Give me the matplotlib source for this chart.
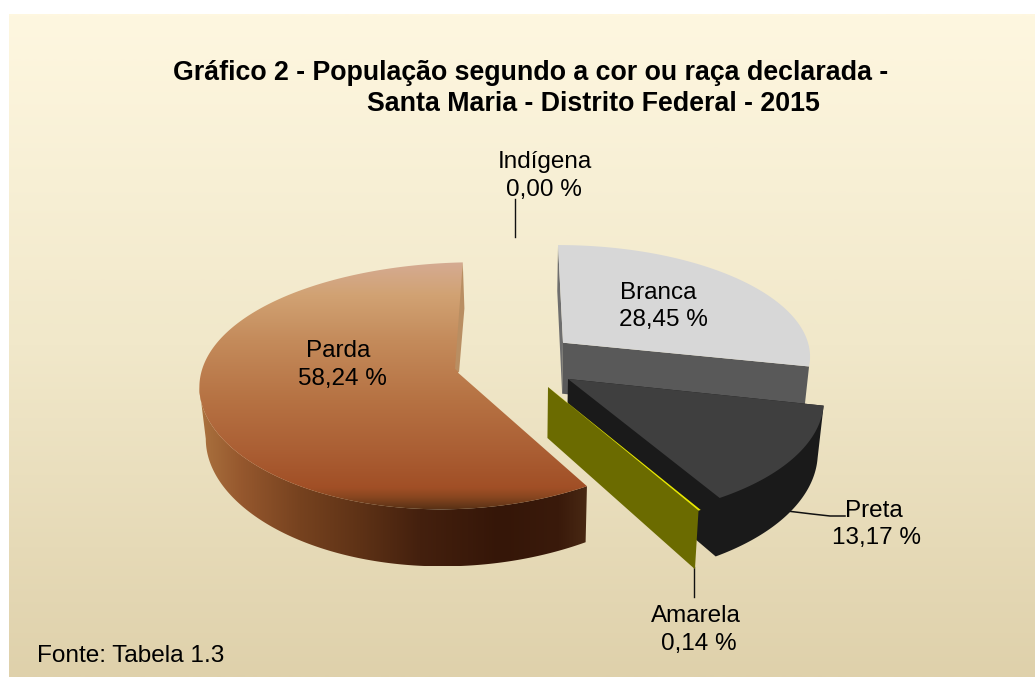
import numpy as np
import matplotlib
matplotlib.use("Agg")
import matplotlib.pyplot as plt
from matplotlib.colors import LinearSegmentedColormap
from matplotlib.patches import Polygon

plt.rcParams['font.family'] = ['Liberation Sans', 'DejaVu Sans']

# ---- data ----
categories = ["Branca", "Preta", "Amarela", "Parda", "Indígena"]
values = [28.45, 13.17, 0.14, 58.24, 0.00]
title_lines = ["Gráfico 2 - População segundo a cor ou raça declarada -",
               "Santa Maria - Distrito Federal - 2015"]
source_text = "Fonte: Tabela 1.3"

W, H = 1035, 677
fig = plt.figure(figsize=(W / 100, H / 100), dpi=100)
ax = fig.add_axes([0, 0, 1, 1])
ax.set_xlim(0, W)
ax.set_ylim(H, 0)
ax.axis("off")

DEPTH = 51
NADIR_X = 520
NADIR_K = 0.98
total = sum(values)
edges = np.concatenate([[0], np.cumsum(values)]) / total * 2 * np.pi


def grad(points, stops, axis, z):
    """Fill a polygon with a linear gradient; stops = [(position_px, colour)]."""
    pts = np.asarray(points)
    lo, hi = stops[0][0], stops[-1][0]
    cm = LinearSegmentedColormap.from_list(
        "g", [((p - lo) / (hi - lo), c) for p, c in stops])
    v = np.linspace(0, 1, 512)
    if axis == "y":
        arr, ext = v[:, None], (pts[:, 0].min(), pts[:, 0].max(), hi, lo)
    else:
        arr, ext = v[None, :], (lo, hi, pts[:, 1].max(), pts[:, 1].min())
    im = ax.imshow(arr, cmap=cm, extent=ext, aspect="auto", zorder=z,
                   interpolation="bilinear", origin="upper")
    patch = Polygon(pts, closed=True, transform=ax.transData, fc="none", ec="none")
    ax.add_patch(patch)
    im.set_clip_path(patch)


def arc(t0, t1, g, n=120):
    """Top-rim points of a slice between two clockwise angles."""
    t = np.linspace(t0, t1, n)
    u, v = np.sin(t), np.cos(t)
    s = 1 / (1 + g["p"] * v)
    sx = 1 / (1 + g.get("px", g["p"]) * v)
    return np.column_stack([g["ax"] + (g["rx"] * u + g["sh"] * v) * sx,
                            g["ay"] + (g.get("ty", 0) * u - g["ry"] * v) * s])


def drop(points, g):
    """Points pushed down by the thickness of the pie."""
    pts = np.asarray(points, float)
    vv = (g["ay"] - pts[:, 1]) / g["ry"]
    s = 1 - g["p"] * vv
    return np.column_stack([NADIR_X + (pts[:, 0] - NADIR_X) * NADIR_K,
                            pts[:, 1] + DEPTH * s])


geom = {
    "Branca": dict(ax=563, ay=342.7, rx=245, ry=108, p=0.106, sh=-5.5),
    "Preta": dict(ax=568, ay=379, rx=252, ry=120, p=0.148, sh=-6.5),
    "Amarela": dict(ax=548, ay=387, rx=265, ry=124, p=0.148, sh=0),
    "Parda": dict(ax=458, ay=372.7, rx=258, ry=122, p=0.106, px=0.05, sh=5, ty=-6),
}
slice_range = {c: (edges[i], edges[i + 1]) for i, c in enumerate(categories)}

# ---- background ----
bg = LinearSegmentedColormap.from_list("bg", ["#FEF7E0", "#F1E8CA", "#DFD1AB"])
ax.imshow(np.linspace(0, 1, 512)[:, None], cmap=bg, extent=(9, W, H, 14),
          aspect="auto", zorder=0)

# ---- Branca ----
g = geom["Branca"]
t0, t1 = slice_range["Branca"]
rim = arc(t0, t1, g)
apex = np.array([[g["ax"], g["ay"]]])
ax.add_patch(Polygon(np.vstack([apex, rim[:1], drop(rim[:1], g), drop(apex, g)]),
                     fc="#6E6E6E", ec="none", zorder=2))
ax.add_patch(Polygon(np.vstack([apex, rim[-1:], drop(rim[-1:], g), drop(apex, g)]),
                     fc="#595959", ec="none", zorder=2))
ax.add_patch(Polygon(np.vstack([apex, rim]), fc="#D7D7D7", ec="none", zorder=3))

# ---- Preta ----
g = geom["Preta"]
t0, t1 = slice_range["Preta"]
rim = arc(t0, t1, g)
apex = np.array([[g["ax"], g["ay"]]])
ax.add_patch(Polygon(np.vstack([rim[:1], drop(rim, g), drop(apex, g), apex]),
                     fc="#1A1A1A", ec="none", zorder=4))
ax.add_patch(Polygon(np.vstack([apex, rim]), fc="#3F3F3F", ec="none", zorder=5))

# ---- Preta leader ----
ax.plot([787, 812, 830, 845], [511, 514, 516, 516], color="#111111", lw=1.1, zorder=3)

# ---- Amarela ----
g = geom["Amarela"]
t0, t1 = slice_range["Amarela"]
rim = arc(t0, t1, g, n=8)
apex = np.array([[g["ax"], g["ay"]]])
ax.add_patch(Polygon(np.vstack([apex, rim[-1:], drop(rim[-1:], g), drop(apex, g)]),
                     fc="#6B6B00", ec="none", zorder=6))
ax.add_patch(Polygon(np.vstack([apex, rim]), fc="#E8E800", ec="none", zorder=7))

# ---- Parda ----
g = geom["Parda"]
t0, t1 = slice_range["Parda"]
rim = arc(t0, t1, g, n=300)
apex = np.array([[g["ax"], g["ay"]]])
wall_rim = rim[:np.argmin(rim[:, 0]) + 1]
wall_stops = [(195, "#AD7540"), (240, "#96582E"), (300, "#76421F"), (360, "#5E3216"),
              (420, "#44200E"), (500, "#351608"), (560, "#3A1A0B"), (590, "#4A2A14")]
grad(np.vstack([wall_rim, drop(wall_rim, g)[::-1]]), wall_stops, "x", 8)
strip = np.array([rim[-1], drop(rim[-1:], g)[0] + [0.5, 0],
                  apex[0] + [1, 0], apex[0] + [-3, -4]])
ax.add_patch(Polygon(strip, fc="#B98E62", ec="none", zorder=10))
face_stops = [(262, "#D5AB92"), (295, "#D1A273"), (340, "#C48B5B"), (400, "#B67243"),
              (450, "#AB5F34"), (488, "#A14F26"), (497, "#8A4720"), (509, "#5A3216")]
grad(np.vstack([apex, rim]), face_stops, "y", 9)

ax.set_xlim(0, W)
ax.set_ylim(H, 0)

# ---- leaders ----
ax.plot([515, 515], [199, 237], color="#111111", lw=1.0, zorder=3)
ax.plot([694, 694], [567, 597], color="#111111", lw=1.0, zorder=3)

# ---- labels ----
FS = 17.5
label_pos = {
    "Indígena": ((545, 162), (544, 190)),
    "Branca": ((658, 293), (663, 320)),
    "Parda": ((338, 351), (342, 379)),
    "Preta": ((874, 511), (877, 538)),
    "Amarela": ((696, 616), (699, 644)),
}
for c, val in zip(categories, values):
    (x1, y1), (x2, y2) = label_pos[c]
    ax.text(x1, y1, c, fontsize=FS, ha="center", va="center", color="black", zorder=20)
    ax.text(x2, y2, f"{val:.2f} %".replace(".", ","), fontsize=FS, ha="center",
            va="center", color="black", zorder=20)

ax.text(173, 73, title_lines[0], fontsize=19.3, fontweight="bold", ha="left",
        va="center", color="black", zorder=20)
ax.text(367, 104, title_lines[1], fontsize=19.3, fontweight="bold", ha="left",
        va="center", color="black", zorder=20)
ax.text(37, 656, source_text, fontsize=17.6, ha="left", va="center", color="black",
        zorder=20)

fig.savefig("out.png", dpi=100, facecolor="white")
